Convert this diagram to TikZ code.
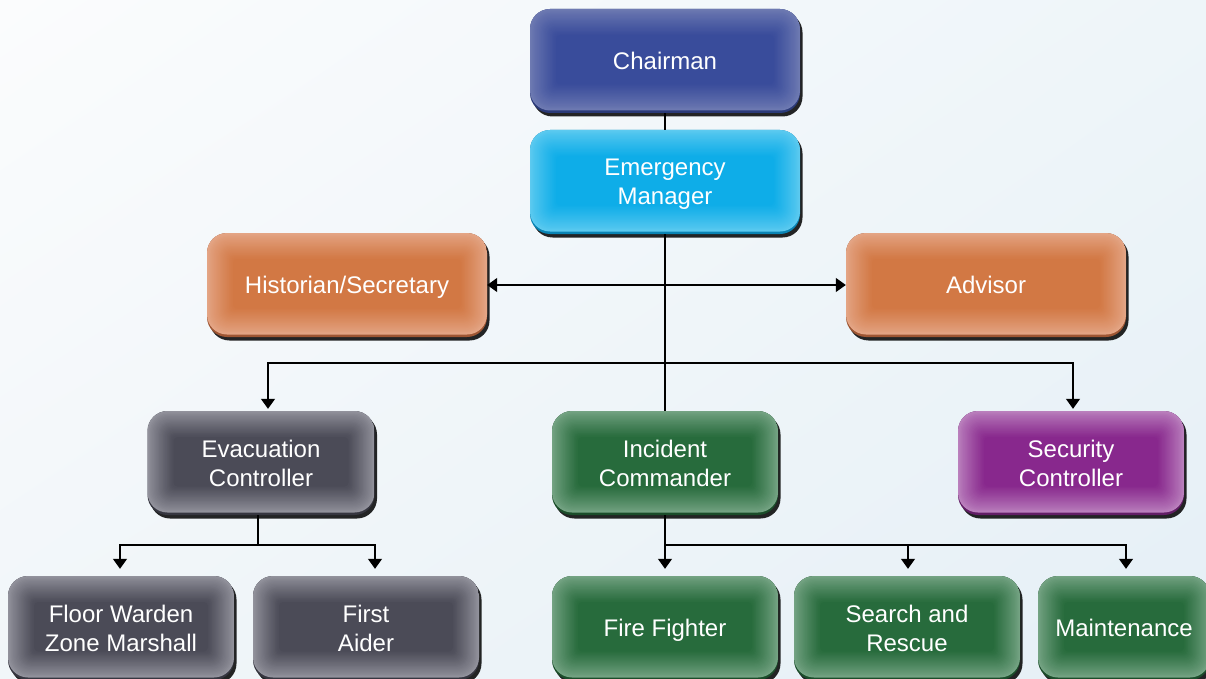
\documentclass[tikz,border=0pt]{standalone}
\usepackage{fontspec}
\setmainfont{Liberation Sans}
\usetikzlibrary{arrows.meta,shadows,shadings,calc}

% box colours: edge, centre, bottom bevel
\definecolor{chairE}{HTML}{6E7AB2}\definecolor{chairC}{HTML}{394C9B}\definecolor{chairB}{HTML}{2B3A78}
\definecolor{emE}{HTML}{5CCAF0}\definecolor{emC}{HTML}{0EADE8}\definecolor{emB}{HTML}{0A84B4}
\definecolor{orE}{HTML}{E4A585}\definecolor{orC}{HTML}{D27844}\definecolor{orB}{HTML}{9E5633}
\definecolor{grE}{HTML}{92929C}\definecolor{grC}{HTML}{4B4B57}\definecolor{grB}{HTML}{363640}
\definecolor{gnE}{HTML}{74A383}\definecolor{gnC}{HTML}{276B3C}\definecolor{gnB}{HTML}{1B4D2A}
\definecolor{puE}{HTML}{BA80BD}\definecolor{puC}{HTML}{88288D}\definecolor{puB}{HTML}{621E66}
\definecolor{bgUL}{HTML}{FBFCFD}\definecolor{bgUR}{HTML}{EEF5F9}
\definecolor{bgLL}{HTML}{F1F6F9}\definecolor{bgLR}{HTML}{E5EFF6}

\tikzset{
  orgbox/.style n args={3}{
    draw=none, fill=#3, rounded corners=20pt, text=white, align=center,
    font=\fontsize{24}{29}\selectfont, inner sep=0pt, text depth=0pt,
    minimum height=104pt,
    drop shadow={shadow xshift=2.5pt, shadow yshift=-3.5pt, opacity=0.85, fill=black},
    path picture={
      \foreach \k in {0,...,20}{
        \pgfmathtruncatemacro\mix{100*(\k/20)^0.85}
        \pgfmathsetmacro\ins{1.3*\k}
        \pgfmathsetmacro\rad{max(20-0.7*\ins,4)}
        \fill[#2!\mix!#1, rounded corners=\rad pt]
          ([shift={(\ins pt,\ins pt+2.5pt)}]path picture bounding box.south west)
          rectangle ([shift={(-\ins pt,-\ins pt)}]path picture bounding box.north east);
      }
    }
  },
  chairbox/.style={orgbox={chairE}{chairC}{chairB}},
  embox/.style={orgbox={emE}{emC}{emB}},
  orbox/.style={orgbox={orE}{orC}{orB}},
  grbox/.style={orgbox={grE}{grC}{grB}},
  gnbox/.style={orgbox={gnE}{gnC}{gnB}},
  pubox/.style={orgbox={puE}{puC}{puB}},
  link/.style={draw=black, line width=1.3pt},
  arr/.style={link, -{Triangle[width=14pt,length=10pt]}},
}

\begin{document}
\begin{tikzpicture}[x=1pt,y=-1pt]
  % page and background
  \useasboundingbox (0,0) rectangle (1206,679);
  \shade[upper left=bgUL, upper right=bgUR, lower left=bgLL, lower right=bgLR]
    (0,0) rectangle (1206,679);

  % top of the chart
  \node[chairbox, minimum width=270pt] (chair) at (665,61) {Chairman};
  \node[embox, minimum width=270pt] (em) at (665,182) {Emergency\\Manager};
  \node[orbox, minimum width=280pt] (hist) at (347,285) {Historian/Secretary};
  \node[orbox, minimum width=280pt] (adv) at (986,285) {Advisor};

  % middle row
  \node[grbox, minimum width=227pt] (evac) at (261,463) {Evacuation\\Controller};
  \node[gnbox, minimum width=226pt] (inc) at (665,463) {Incident\\Commander};
  \node[pubox, minimum width=226pt] (sec) at (1071,463) {Security\\Controller};

  % bottom row
  \node[grbox, minimum width=226pt] (floor) at (121,628) {Floor Warden\\Zone Marshall};
  \node[grbox, minimum width=226pt] (aid) at (366,628) {First\\Aider};
  \node[gnbox, minimum width=226pt] (fire) at (665,628) {Fire Fighter};
  \node[gnbox, minimum width=226pt] (sar) at (907,628) {Search and\\Rescue};
  \node[gnbox, minimum width=172pt] (maint) at (1124,628) {Maintenance};

  % junction points on the connector lines
  \coordinate (j1) at (665,363);
  \coordinate (j2) at (258,545);
  \coordinate (j3) at (665,545);

  % connectors
  \draw[link] (chair) -- (em);
  \draw[link] (em.south) -- (inc.north);
  \draw[arr] (em.south |- hist.east) -- (hist.east);
  \draw[arr] (em.south |- adv.west) -- (adv.west);
  \draw[arr, shorten >=2pt] (j1) -| ([xshift=7pt]evac.north);
  \draw[arr, shorten >=2pt] (j1) -| ([xshift=2pt]sec.north);
  \draw[link] (evac.south -| j2) -- (j2);
  \draw[arr, shorten >=7pt] (j2) -| ([xshift=-1pt]floor.north);
  \draw[arr, shorten >=7pt] (j2) -| ([xshift=9pt]aid.north);
  \draw[arr, shorten >=7pt] (inc.south) -- (fire.north);
  \draw[arr, shorten >=7pt] (j3) -| ([xshift=1pt]sar.north);
  \draw[arr, shorten >=7pt] (j3) -| ([xshift=2pt]maint.north);
\end{tikzpicture}
\end{document}
